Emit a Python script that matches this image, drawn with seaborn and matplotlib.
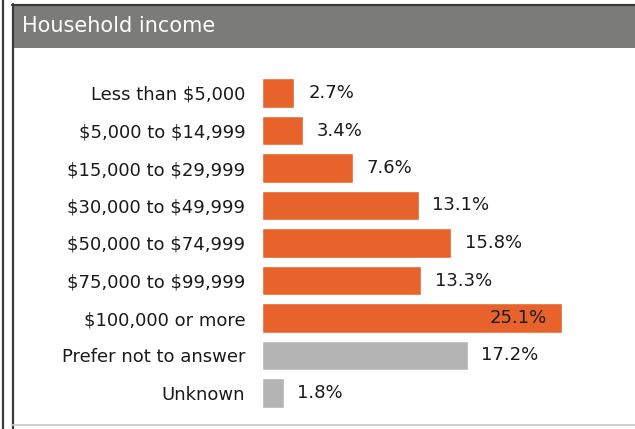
import matplotlib
matplotlib.use("Agg")
import matplotlib.pyplot as plt
from matplotlib.patches import Rectangle
from matplotlib.lines import Line2D
import seaborn as sns
import pandas as pd

categories = [
    "Less than $5,000",
    "$5,000 to $14,999",
    "$15,000 to $29,999",
    "$30,000 to $49,999",
    "$50,000 to $74,999",
    "$75,000 to $99,999",
    "$100,000 or more",
    "Prefer not to answer",
    "Unknown",
]
shares = [2.7, 3.4, 7.6, 13.1, 15.8, 13.3, 25.1, 17.2, 1.8]
groups = ["income"] * 7 + ["other"] * 2

ORANGE = "#E8632C"
GREY = "#B4B4B4"
group_colors = {"income": ORANGE, "other": GREY}

df = pd.DataFrame({"category": categories, "share": shares, "group": groups})

sns.set_theme(style="white")
plt.rcParams["font.family"] = ["DejaVu Sans"]
plt.rcParams["text.parse_math"] = False

W, H = 635, 429
fig = plt.figure(figsize=(W / 100, H / 100), dpi=100)
fig.patch.set_facecolor("white")

# frame lines and title band
fig.add_artist(Line2D([2.5 / W, 2.5 / W], [0, 1], color="#3a3a3a", lw=1.6))
fig.add_artist(Line2D([12.5 / W, 12.5 / W], [0, 1 - 4 / H], color="#3a3a3a", lw=1.6))
fig.add_artist(Rectangle((12 / W, 1 - 48 / H), (W - 12) / W, 43 / H,
                         facecolor="#7b7b79", edgecolor="none"))
fig.add_artist(Line2D([12 / W, 1], [1 - 5 / H, 1 - 5 / H], color="#3a3a3a", lw=1.6))
fig.add_artist(Line2D([12 / W, 1], [1 - 425 / H, 1 - 425 / H], color="#c8c8c8", lw=1.2))
fig.text(22 / W, 1 - 26 / H, "Household income", color="white",
         fontsize=15, va="center", ha="left")

# bar area: value 0 at x=262px, 25.1 at x=562px
px_per_unit = 300 / 25.1
left_px, right_px = 262, 632
top_px, bottom_px = 74.25, 411.75
ax = fig.add_axes([left_px / W, 1 - bottom_px / H,
                   (right_px - left_px) / W, (bottom_px - top_px) / H])

sns.barplot(data=df, x="share", y="category", hue="group", palette=group_colors,
            dodge=False, legend=False, width=0.79, ax=ax, saturation=1)

ax.set_xlim(0, (right_px - left_px) / px_per_unit)
ax.set_ylim(8.5, -0.5)
ax.set_xlabel("")
ax.set_ylabel("")
ax.set_xticks([])
for s in ax.spines.values():
    s.set_visible(False)
ax.tick_params(axis="y", length=0, pad=12, labelsize=13, labelcolor="#1a1a1a")
ax.set_facecolor("none")

for i, v in enumerate(shares):
    label = f"{v:.1f}%"
    if v == max(shares):
        ax.annotate(label, (v, i), xytext=(-11, 0), textcoords="offset points",
                    ha="right", va="center", fontsize=13, color="#1a1a1a")
    else:
        ax.annotate(label, (v, i), xytext=(10, 0), textcoords="offset points",
                    ha="left", va="center", fontsize=13, color="#1a1a1a")

fig.savefig("out.png", dpi=100)
